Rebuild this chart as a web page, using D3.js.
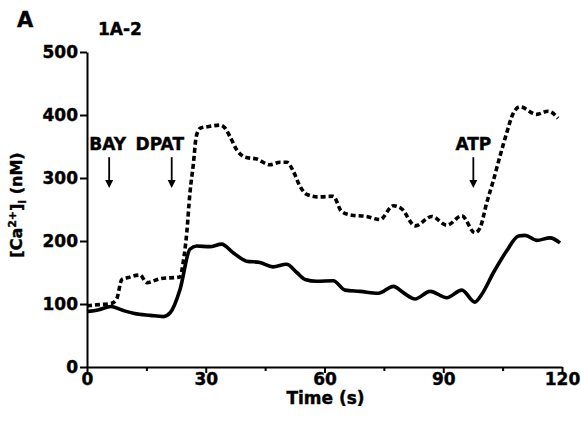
<!DOCTYPE html>
<html>
<head>
<meta charset="utf-8">
<script src="https://cdn.jsdelivr.net/npm/d3@7"></script>
<style>
  body { margin: 0; background: #fff; }
  text { font-family: "DejaVu Sans", sans-serif; font-weight: bold; fill: #000; stroke: #000; stroke-width: 0.4; }
</style>
</head>
<body>
<svg id="chart" width="581" height="434"></svg>
<script>
// values: time (s), [Ca2+]i (nM)
const solidTime = [0, 3, 6, 9, 12, 16, 19.3, 21, 23.5, 26, 27.7, 31, 34, 37, 40.3, 43.7, 47, 50.4, 53, 55.1,
  58, 62.2, 65.2, 69, 73.6, 77.4, 79.9, 82.9, 86.7, 90.9, 94.7, 98, 99.7, 102.7, 106, 109, 110.7, 113.6, 117, 119.5];
const solidCa = [88, 91, 96, 90, 85, 82, 80, 86, 123, 187, 192, 191, 195, 181, 168, 166, 159, 163, 150, 139,
  136, 137, 122, 120, 117, 128, 118, 108, 120, 110, 122, 103, 115, 150, 184, 208, 209, 201, 205, 197];

const dashTime = [0, 3, 6.2, 7.5, 8.8, 10.4, 13.4, 15.1, 18.4, 23.5, 24.3, 25.2, 26, 26.9, 27.5, 28.2, 28.6, 31.1,
  33.6, 34.9, 36.1, 37.8, 39.9, 42.9, 46.2, 48.8, 50.5, 52.1, 53.8, 55.5, 58.4, 62.2, 64.3, 66.9, 70.6, 74,
  77.4, 79.5, 82.9, 87.1, 90.9, 94.7, 98, 99.3, 101, 102.7, 104.3, 106, 107.7, 109.4, 113.6, 116.5, 119];
const dashCa = [97, 99, 101, 108, 139, 142, 146, 134, 140, 143, 166, 213, 276, 324, 362, 376, 379, 382,
  384, 379, 366, 345, 333, 330, 321, 325, 325, 311, 287, 274, 270, 271, 247, 241, 239, 234,
  256, 251, 224, 239, 225, 240, 213, 221, 261, 297, 334, 371, 403, 413, 401, 406, 395];

const xTicks = [0, 30, 60, 90, 120];
const xMinorTicks = [15, 45, 75, 105];
const yTicks = [0, 100, 200, 300, 400, 500];

// stimuli: label, arrow time, label time, arrow top / bottom in nM
const stimLabels = ["BAY", "DPAT", "ATP"];
const stimTime = [5.6, 21.4, 97.6];
const stimLabelTime = [5.2, 18.4, 97.6];
const arrowTop = 333;
const arrowBottom = 284;
const labelLevel = 344;

const svg = d3.select("#chart");

const x = d3.scaleLinear().domain([0, 120]).range([87, 562]);
const y = d3.scaleLinear().domain([0, 500]).range([367, 52]);

// axes
svg.append("g").attr("transform", "translate(0," + y(0) + ")")
  .call(d3.axisBottom(x).tickValues(xTicks).tickSize(6).tickSizeOuter(0).tickPadding(0));
svg.append("g").attr("transform", "translate(0," + y(0) + ")")
  .call(d3.axisBottom(x).tickValues(xMinorTicks).tickSize(4).tickFormat(""))
  .call(g => g.select(".domain").remove());
svg.append("g").attr("transform", "translate(" + x(0) + ",0)")
  .call(d3.axisLeft(y).tickValues(yTicks).tickSize(7).tickSizeOuter(0).tickPadding(2));

svg.selectAll(".domain").attr("stroke", "#000").attr("stroke-width", 2);
svg.selectAll(".tick line").attr("stroke", "#000").attr("stroke-width", 2);
svg.selectAll(".tick text")
  .style("font-family", "DejaVu Sans, sans-serif")
  .style("font-weight", "bold")
  .style("font-size", "17px")
  .attr("fill", "#000");

// traces
const line = d3.line()
  .x(d => x(d[0]))
  .y(d => y(d[1]))
  .curve(d3.curveMonotoneX);

svg.append("path")
  .datum(d3.zip(solidTime, solidCa))
  .attr("d", line)
  .attr("fill", "none")
  .attr("stroke", "#000")
  .attr("stroke-width", 3.6)
  .attr("stroke-linejoin", "round");

svg.append("path")
  .datum(d3.zip(dashTime, dashCa))
  .attr("d", line)
  .attr("fill", "none")
  .attr("stroke", "#000")
  .attr("stroke-width", 3.6)
  .attr("stroke-dasharray", "5,3");

// stimulus arrows
stimLabels.forEach(function(name, i) {
  let ax = x(stimTime[i]);
  svg.append("line")
    .attr("x1", ax).attr("x2", ax)
    .attr("y1", y(arrowTop)).attr("y2", y(arrowBottom) - 6)
    .attr("stroke", "#000").attr("stroke-width", 1.8);
  svg.append("path")
    .attr("d", "M" + (ax - 4) + "," + (y(arrowBottom) - 8) + "L" + (ax + 4) + "," + (y(arrowBottom) - 8) +
      "L" + ax + "," + y(arrowBottom) + "Z")
    .attr("fill", "#000");
  svg.append("text")
    .attr("x", x(stimLabelTime[i]))
    .attr("y", y(labelLevel))
    .attr("text-anchor", "middle")
    .style("font-size", "17px")
    .text(name);
});

// titles
svg.append("text").attr("x", 17).attr("y", 27).style("font-size", "21px").text("A");
svg.append("text").attr("x", 98).attr("y", 35).style("font-size", "17px").text("1A-2");

svg.append("text")
  .attr("x", (x(0) + x(120)) / 2 + 1)
  .attr("y", 404)
  .attr("text-anchor", "middle")
  .style("font-size", "17px")
  .text("Time (s)");

const ylab = svg.append("text")
  .attr("transform", "translate(22,205) rotate(-90)")
  .attr("text-anchor", "middle")
  .style("font-size", "16px");
ylab.append("tspan").text("[Ca");
ylab.append("tspan").attr("dy", -6).style("font-size", "11px").text("2+");
ylab.append("tspan").attr("dy", 6).text("]");
ylab.append("tspan").attr("dy", 4).style("font-size", "11px").text("i");
ylab.append("tspan").attr("dy", -4).text(" (nM)");
</script>
</body>
</html>
